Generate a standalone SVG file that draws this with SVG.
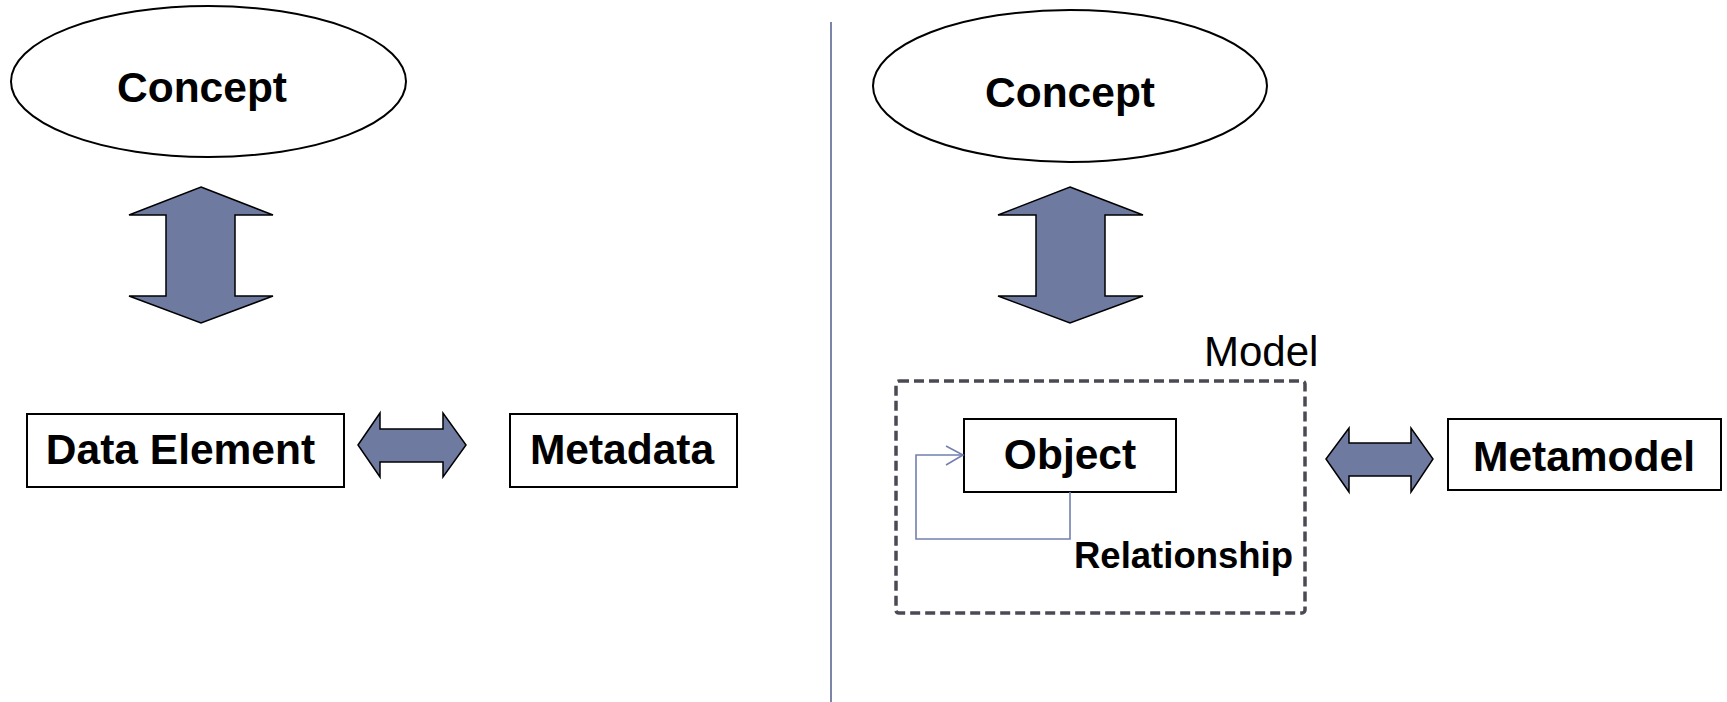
<svg xmlns="http://www.w3.org/2000/svg" width="1727" height="702" viewBox="0 0 1727 702">
  <style>
    .shape { fill: #ffffff; stroke: #000000; stroke-width: 2; }
    .label { font-family: "Liberation Sans", Arial, sans-serif; font-weight: bold; font-size: 42.5px; fill: #000000; text-anchor: middle; }
    .plain { font-family: "Liberation Sans", Arial, sans-serif; font-size: 42px; fill: #000000; }
    .small { font-family: "Liberation Sans", Arial, sans-serif; font-weight: bold; font-size: 36.5px; fill: #000000; }
    .block { fill: #6f7aa1; stroke: #000000; stroke-width: 1.5; stroke-linejoin: miter; }
    .frame { fill: none; stroke: #4a4a55; stroke-width: 3.5; stroke-dasharray: 10 5; }
    .rel { fill: none; stroke: #7380b0; stroke-width: 1.6; }
  </style>
  <rect width="1727" height="702" fill="#ffffff"/>

  <!-- divider between the two halves -->
  <line x1="831" y1="22" x2="831" y2="702" stroke="#7a85a8" stroke-width="2"/>

  <!-- left half -->
  <g id="concept-left">
    <ellipse class="shape" cx="208.5" cy="81.5" rx="197.5" ry="75.5"/>
    <text class="label" x="202" y="102">Concept</text>
  </g>
  <g id="data-element">
    <rect class="shape" x="27" y="414" width="317" height="73"/>
    <text class="label" x="180.5" y="464">Data Element</text>
  </g>
  <g id="metadata">
    <rect class="shape" x="510" y="414" width="227" height="73"/>
    <text class="label" x="622" y="464">Metadata</text>
  </g>

  <!-- right half -->
  <g id="concept-right">
    <ellipse class="shape" cx="1070" cy="86" rx="197" ry="76"/>
    <text class="label" x="1070" y="107">Concept</text>
  </g>
  <g id="model">
    <rect class="frame" x="896" y="381" width="409" height="232" rx="3"/>
    <text class="plain" x="1204" y="366">Model</text>
  </g>
  <g id="object">
    <rect class="shape" x="964" y="419" width="212" height="73"/>
    <text class="label" x="1070" y="469">Object</text>
  </g>
  <g id="metamodel">
    <rect class="shape" x="1448" y="419" width="273" height="71"/>
    <text class="label" x="1584" y="471">Metamodel</text>
  </g>

  <!-- connectors -->
  <g id="connectors">
    <polygon class="block" points="201,187 273,215 235,215 235,296 273,296 201,323 129,296 166,296 166,215 129,215"/>
    <polygon class="block" points="1070,187 1143,215 1105,215 1105,296 1143,296 1070,323 998,296 1036,296 1036,215 998,215"/>
    <polygon class="block" points="358,445 380,413 380,429 443,429 443,413 466,445 443,477 443,462 380,462 380,477"/>
    <polygon class="block" points="1326,459 1349,428 1349,443 1411,443 1411,428 1433,459 1411,492 1411,476 1349,476 1349,492"/>
    <polyline class="rel" points="1070,492 1070,539 916,539 916,455 963,455"/>
    <polyline class="rel" points="946,446 963,455 946,465"/>
    <text class="small" x="1074" y="568">Relationship</text>
  </g>
</svg>
